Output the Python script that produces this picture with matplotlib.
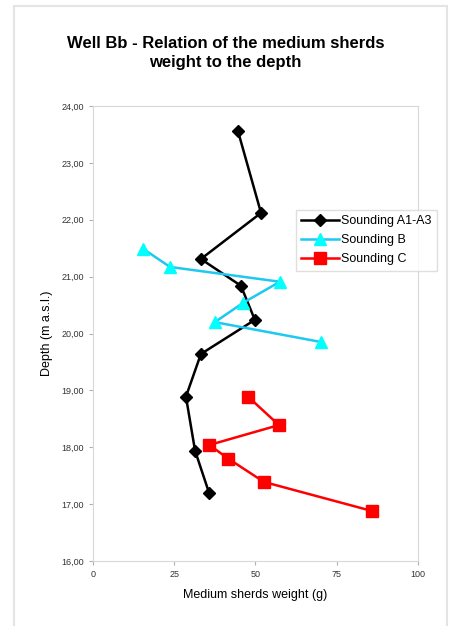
import matplotlib.pyplot as plt
from matplotlib.patches import Rectangle
from matplotlib.ticker import FuncFormatter

plt.rcParams["font.family"] = ["Liberation Sans", "DejaVu Sans"]

# Sounding A1-A3
a_weight = [44.6, 51.7, 33.2, 45.5, 49.8, 33.2, 28.6, 31.4, 35.7]
a_depth = [23.56, 22.12, 21.31, 20.84, 20.24, 19.64, 18.89, 17.94, 17.20]

# Sounding B
b_weight = [15.4, 23.7, 57.5, 46.2, 37.5, 70.2]
b_depth = [21.49, 21.17, 20.91, 20.54, 20.20, 19.85]

# Sounding C
c_weight = [47.7, 57.2, 35.8, 41.6, 52.6, 85.8]
c_depth = [18.89, 18.39, 18.04, 17.80, 17.39, 16.88]

fig = plt.figure(figsize=(4.51, 6.26), dpi=100)

# light grey chart-area border
fig.patches.append(Rectangle((14 / 451, -0.01), (447 - 14) / 451, 1 - 6 / 626 + 0.01,
                             transform=fig.transFigure, fill=False,
                             edgecolor="#e4e4e4", linewidth=1.5))

ax = fig.add_axes([93 / 451, 1 - 561 / 626, (418 - 93) / 451, (561 - 106) / 626])

ax.plot(a_weight, a_depth, color="black", linewidth=1.8, marker="D",
        markersize=6.5, label="Sounding A1-A3")
ax.plot(b_weight, b_depth, color="#1ec8f0", linewidth=1.8, marker="^",
        markersize=9, markerfacecolor="cyan", markeredgecolor="cyan",
        label="Sounding B")
ax.plot(c_weight, c_depth, color="red", linewidth=1.8, marker="s",
        markersize=9, label="Sounding C")

ax.set_xlim(0, 100)
ax.set_ylim(16, 24)
ax.set_xticks([0, 25, 50, 75, 100])
ax.set_yticks(range(16, 25))
ax.yaxis.set_major_formatter(FuncFormatter(lambda v, p: f"{v:.2f}".replace(".", ",")))
ax.tick_params(labelsize=6.5, length=3, color="#b0b0b0", colors="#333333")
for side in ax.spines:
    ax.spines[side].set_color("#d8d8d8")

ax.set_xlabel("Medium sherds weight (g)", fontsize=9, labelpad=7)
ax.set_ylabel("Depth (m a.s.l.)", fontsize=9, labelpad=6)

fig.text(0.5, 1 - 53 / 626, "Well Bb - Relation of the medium sherds\nweight to the depth",
         ha="center", va="center", fontsize=12, fontweight="bold", linespacing=1.3)

ax.legend(loc="upper left", bbox_to_anchor=(292 / 451, 1 - 206 / 626),
          bbox_transform=fig.transFigure, fontsize=9, frameon=True,
          fancybox=False, edgecolor="#d8d8d8", handlelength=3.0,
          borderpad=0.45, labelspacing=0.55, handletextpad=0.2,
          borderaxespad=0.3)

fig.savefig("out.png", dpi=100)
